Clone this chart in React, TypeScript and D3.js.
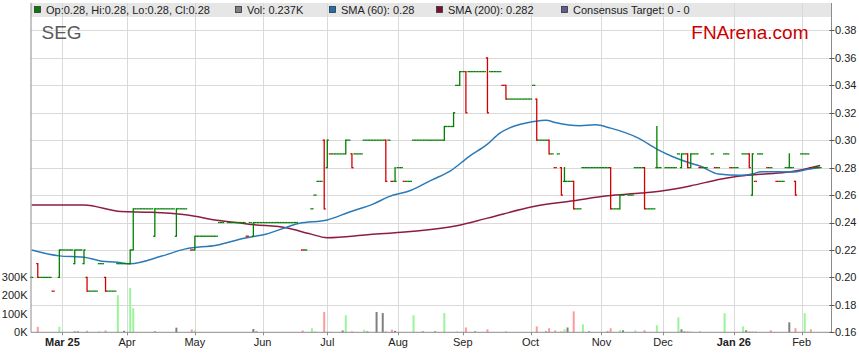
import React, { useEffect, useRef } from 'react';
import * as d3 from 'd3';

// trading days = weekdays counted from Mon 17 Feb 2025 (day 0)
const START = new Date(2025, 1, 17);
const DAY_COUNT = 260;

// days that traded at one price: [firstDay, lastDay, price]
const flatRuns: [number, number, number][] = [
  [0, 0, 0.2], [3, 6, 0.2], [7, 7, 0.19], [10, 13, 0.22], [15, 16, 0.22],
  [19, 21, 0.19], [22, 23, 0.21], [25, 27, 0.19], [28, 31, 0.21],
  [34, 39, 0.25], [41, 46, 0.25], [48, 50, 0.25], [52, 52, 0.22],
  [54, 60, 0.23], [61, 62, 0.24], [64, 69, 0.24], [70, 70, 0.23],
  [71, 71, 0.24], [73, 86, 0.24], [88, 89, 0.22], [91, 91, 0.25],
  [92, 92, 0.26], [93, 94, 0.27], [97, 101, 0.29], [103, 103, 0.3],
  [105, 107, 0.29], [108, 114, 0.3], [116, 116, 0.3], [117, 117, 0.27],
  [119, 120, 0.28], [121, 123, 0.27], [124, 133, 0.3], [135, 136, 0.31],
  [138, 138, 0.34], [140, 140, 0.35], [142, 147, 0.35], [149, 152, 0.35],
  [153, 153, 0.34], [155, 162, 0.33], [163, 163, 0.34], [165, 167, 0.3],
  [169, 169, 0.29], [170, 170, 0.28], [171, 171, 0.29], [174, 175, 0.27],
  [177, 178, 0.25], [179, 187, 0.28], [189, 190, 0.25], [192, 192, 0.26],
  [194, 195, 0.26], [196, 198, 0.28], [200, 202, 0.25], [204, 204, 0.28],
  [206, 209, 0.28], [210, 210, 0.29], [212, 212, 0.29], [215, 216, 0.29],
  [217, 219, 0.28], [221, 221, 0.29], [222, 223, 0.28], [225, 226, 0.29],
  [227, 229, 0.28], [231, 232, 0.29], [235, 235, 0.27], [236, 237, 0.29],
  [239, 240, 0.28], [242, 244, 0.27], [245, 245, 0.28], [247, 247, 0.28],
  [250, 252, 0.29], [253, 256, 0.28],
];

// days with a range: [day, open, high, low, close]
const rangeBars: [number, number, number, number, number][] = [
  [2, 0.21, 0.21, 0.2, 0.2], [9, 0.2, 0.22, 0.2, 0.22], [14, 0.21, 0.22, 0.21, 0.22],
  [17, 0.21, 0.22, 0.21, 0.22], [18, 0.2, 0.2, 0.19, 0.19], [24, 0.2, 0.2, 0.19, 0.19],
  [32, 0.21, 0.22, 0.21, 0.22], [33, 0.22, 0.25, 0.22, 0.25], [40, 0.23, 0.25, 0.23, 0.25],
  [47, 0.23, 0.25, 0.23, 0.25], [53, 0.22, 0.23, 0.22, 0.23], [72, 0.23, 0.24, 0.23, 0.24],
  [95, 0.3, 0.3, 0.25, 0.25], [96, 0.28, 0.3, 0.28, 0.3], [102, 0.29, 0.3, 0.29, 0.3],
  [104, 0.29, 0.29, 0.28, 0.28], [115, 0.3, 0.3, 0.27, 0.27], [118, 0.27, 0.28, 0.27, 0.27],
  [134, 0.3, 0.31, 0.3, 0.31], [137, 0.31, 0.32, 0.31, 0.32], [139, 0.34, 0.35, 0.34, 0.35],
  [141, 0.35, 0.35, 0.32, 0.32], [148, 0.36, 0.36, 0.32, 0.32], [154, 0.34, 0.34, 0.33, 0.33],
  [164, 0.33, 0.33, 0.3, 0.3], [168, 0.3, 0.3, 0.29, 0.29], [172, 0.28, 0.28, 0.26, 0.26],
  [173, 0.27, 0.28, 0.27, 0.27], [176, 0.27, 0.27, 0.25, 0.25], [188, 0.28, 0.28, 0.25, 0.25],
  [191, 0.25, 0.26, 0.25, 0.26], [199, 0.28, 0.28, 0.25, 0.25], [203, 0.28, 0.31, 0.28, 0.28],
  [211, 0.28, 0.29, 0.28, 0.29], [213, 0.29, 0.29, 0.28, 0.28], [214, 0.28, 0.29, 0.28, 0.29],
  [233, 0.29, 0.29, 0.28, 0.28], [234, 0.26, 0.29, 0.26, 0.29], [246, 0.28, 0.29, 0.28, 0.28],
  [248, 0.27, 0.27, 0.26, 0.26],
];

// volume per day, split by direction of the close
const volUp: [number, number][] = [
  [9, 30000], [22, 5000], [28, 200000], [32, 240000], [33, 130000], [53, 10000],
  [91, 22000], [92, 5000], [96, 5000], [102, 92000], [108, 14000], [124, 92000],
  [134, 104000], [138, 5000], [173, 16000], [179, 43000], [191, 11000], [196, 11000],
  [203, 38000], [210, 81000], [214, 5000], [225, 103000], [231, 32000], [234, 5000],
  [251, 103000],
];
const volDown: [number, number][] = [
  [2, 30000], [18, 8000], [24, 10000], [52, 15000], [88, 10000], [95, 110000],
  [97, 3000], [104, 5000], [115, 5000], [117, 14000], [141, 26000], [148, 16000],
  [154, 5000], [164, 32000], [168, 22000], [170, 10000], [172, 5000], [176, 113000],
  [188, 22000], [199, 11000], [213, 5000], [217, 5000], [233, 5000], [235, 5000],
  [240, 11000], [248, 22000], [253, 16000],
];
const volFlat: [number, number][] = [
  [14, 5000], [15, 5000], [30, 8000], [40, 5000], [47, 25000], [72, 18000], [73, 5000],
  [101, 10000], [109, 5000], [112, 110000], [114, 104000], [118, 8000], [127, 5000],
  [131, 5000], [144, 5000], [167, 5000], [174, 26000], [181, 5000], [187, 5000],
  [192, 11000], [211, 16000], [212, 5000], [232, 11000], [246, 54000],
];

// moving averages: [day, value]
const sma60: [number, number][] = [
  [0, 0.22], [9, 0.2157], [17, 0.2147], [22, 0.2122], [29, 0.2107], [32, 0.21],
  [42, 0.2154], [50, 0.2208], [60, 0.2235], [69, 0.2286], [76, 0.2315], [87, 0.2395],
  [96, 0.2419], [103, 0.2475], [111, 0.2536], [116, 0.2589], [123, 0.2633],
  [130, 0.2711], [136, 0.2777], [142, 0.2881], [148, 0.2971], [152, 0.3052],
  [155, 0.3088], [163, 0.3136], [167, 0.3146], [170, 0.3129], [178, 0.3105],
  [183, 0.3112], [188, 0.3088], [197, 0.3015], [203, 0.2935], [208, 0.2881],
  [214, 0.2832], [217, 0.2812], [223, 0.2754], [230, 0.2745], [234, 0.2754],
  [237, 0.2771], [247, 0.2769], [252, 0.2788], [256, 0.2801],
];
const sma200: [number, number][] = [
  [0, 0.2528], [17, 0.2528], [29, 0.248], [39, 0.2475], [50, 0.2456], [61, 0.2414],
  [72, 0.2385], [83, 0.236], [90, 0.232], [96, 0.229], [109, 0.2311], [123, 0.2335],
  [138, 0.2376], [148, 0.2432], [163, 0.2517], [176, 0.2559], [187, 0.2595],
  [198, 0.2615], [205, 0.2632], [214, 0.2668], [224, 0.2717], [230, 0.2739],
  [238, 0.2754], [246, 0.2768], [256, 0.2815],
];

const priceTicks = [0.16, 0.18, 0.2, 0.22, 0.24, 0.26, 0.28, 0.3, 0.32, 0.34, 0.36, 0.38];
const volTicks = [0, 100000, 200000, 300000];

const legendItems = [
  { label: 'Op:0.28, Hi:0.28, Lo:0.28, Cl:0.28', color: '#0a7a0a', x: 34 },
  { label: 'Vol: 0.237K', color: '#808080', x: 235 },
  { label: 'SMA (60): 0.28', color: '#1f6fae', x: 329 },
  { label: 'SMA (200): 0.282', color: '#7a1030', x: 436 },
  { label: 'Consensus Target: 0 - 0', color: '#5a5f8f', x: 561 },
];

const FONT = 'Arial, "Liberation Sans", sans-serif';
const GREEN = '#008000';
const RED = '#d40000';

export default function App() {
  const svgRef = useRef<SVGSVGElement>(null);

  useEffect(() => {
    if (!svgRef.current) return;
    document.body.style.margin = '0';
    document.body.style.overflow = 'hidden';

    const W = 859;
    const H = 363;
    const left = 31;
    const right = 831.5;
    const top = 3;
    const bottom = 332.3;

    const svg = d3.select(svgRef.current);
    svg.selectAll('*').remove();
    svg.attr('width', W).attr('height', H).style('font-family', FONT);

    const days = d3.timeDay
      .range(START, d3.timeDay.offset(START, 400))
      .filter((d) => d.getDay() % 6 !== 0)
      .slice(0, DAY_COUNT);

    const x = d3.scaleLinear().domain([-0.2, DAY_COUNT - 0.3]).range([left, right]);
    const y = d3.scaleLinear().domain([0.16, 0.4]).range([bottom, top]);
    const yVol = d3.scaleLinear().domain([0, 300000]).range([bottom, 276.8]);
    const crisp = (v: number) => Math.round(v) + 0.5;

    // legend band
    svg.append('rect').attr('x', left).attr('y', top).attr('width', right - left).attr('height', 14)
      .attr('fill', '#e6e6e6');

    // grid
    svg.append('g').selectAll('line').data(priceTicks.slice(1)).join('line')
      .attr('x1', left).attr('x2', right)
      .attr('y1', (d) => crisp(y(d))).attr('y2', (d) => crisp(y(d)))
      .attr('stroke', '#d9d9d9');

    const monthStarts = days
      .map((d, i) => ({ d, i }))
      .filter(({ d, i }) => i > 0 && d.getMonth() !== days[i - 1].getMonth());

    svg.append('g').selectAll('line').data(monthStarts).join('line')
      .attr('x1', (m) => crisp(x(m.i))).attr('x2', (m) => crisp(x(m.i)))
      .attr('y1', top).attr('y2', bottom)
      .attr('stroke', '#d9d9d9');

    // volume
    const volGroups = [
      { data: volUp, color: '#99f599' },
      { data: volDown, color: '#ff9a9a' },
      { data: volFlat, color: '#808080' },
    ];
    volGroups.forEach((grp) => {
      svg.append('g').selectAll('rect').data(grp.data).join('rect')
        .attr('x', (d) => x(d[0]) - 1)
        .attr('width', 2)
        .attr('y', (d) => yVol(d[1]))
        .attr('height', (d) => bottom - yVol(d[1]))
        .attr('fill', grp.color);
    });

    // moving averages
    const line = d3.line<[number, number]>()
      .x((d) => x(d[0]))
      .y((d) => y(d[1]))
      .curve(d3.curveMonotoneX);
    svg.append('path').datum(sma200).attr('d', line).attr('fill', 'none')
      .attr('stroke', '#8c1d40').attr('stroke-width', 1.5);
    svg.append('path').datum(sma60).attr('d', line).attr('fill', 'none')
      .attr('stroke', '#2a7ab9').attr('stroke-width', 1.5);

    // OHLC bars
    const byDay = new Map<number, { day: number; o: number; h: number; l: number; c: number }>();
    flatRuns.forEach(([a, b, p]) => {
      for (let dd = a; dd <= b; dd++) byDay.set(dd, { day: dd, o: p, h: p, l: p, c: p });
    });
    rangeBars.forEach(([dd, o, h, l, c]) => byDay.set(dd, { day: dd, o, h, l, c }));
    const bars = Array.from(byDay.values()).sort((a, b) => a.day - b.day);

    let prevClose = bars[0].c;
    const coloured = bars.map((b) => {
      const up = b.c > b.o || (b.c === b.o && b.c >= prevClose);
      prevClose = b.c;
      return { ...b, color: up ? GREEN : RED };
    });

    const ohlc = svg.append('g').attr('stroke-width', 1.3);
    coloured.forEach((b) => {
      const cx = x(b.day);
      const g = ohlc.append('g').attr('stroke', b.color);
      if (b.h > b.l) {
        g.append('line').attr('x1', cx).attr('x2', cx).attr('y1', y(b.h) - 0.6).attr('y2', y(b.l) + 0.6);
      }
      g.append('line').attr('x1', cx - 1.6).attr('x2', cx).attr('y1', y(b.o)).attr('y2', y(b.o));
      g.append('line').attr('x1', cx).attr('x2', cx + 1.6).attr('y1', y(b.c)).attr('y2', y(b.c));
    });

    // frame
    const frame = svg.append('g').attr('stroke', '#8c8c8c').attr('stroke-width', 1);
    frame.append('line').attr('x1', left).attr('x2', left).attr('y1', top).attr('y2', bottom);
    frame.append('line').attr('x1', right).attr('x2', right).attr('y1', top).attr('y2', bottom);
    frame.append('line').attr('x1', left).attr('x2', right).attr('y1', bottom).attr('y2', bottom);

    // right price axis
    const yAxis = svg.append('g');
    yAxis.selectAll('line').data(priceTicks).join('line')
      .attr('x1', right - 2).attr('x2', right + 3)
      .attr('y1', (d) => crisp(y(d))).attr('y2', (d) => crisp(y(d)))
      .attr('stroke', '#555');
    yAxis.selectAll('text').data(priceTicks).join('text')
      .attr('x', right + 3.5).attr('y', (d) => y(d)).attr('dy', '0.35em')
      .attr('font-size', 11).attr('fill', '#222')
      .text((d) => d.toFixed(2));

    // left volume labels
    svg.append('g').selectAll('text').data(volTicks).join('text')
      .attr('x', 27.5).attr('y', (d) => yVol(d)).attr('dy', '0.35em')
      .attr('text-anchor', 'end').attr('font-size', 11).attr('fill', '#222')
      .text((d) => `${d / 1000}K`);

    // month axis
    const fmtMonth = d3.timeFormat('%b');
    const fmtYear = d3.timeFormat('%b %y');
    svg.append('g').selectAll('line').data(monthStarts).join('line')
      .attr('x1', (m) => crisp(x(m.i))).attr('x2', (m) => crisp(x(m.i)))
      .attr('y1', bottom).attr('y2', bottom + 3)
      .attr('stroke', '#8c8c8c');
    svg.append('g').selectAll('text').data(monthStarts).join('text')
      .attr('x', (m) => x(m.i)).attr('y', 346)
      .attr('text-anchor', 'middle').attr('font-size', 11).attr('fill', '#222')
      .attr('font-weight', (m, k) => (k === 0 || m.d.getMonth() === 0 ? 'bold' : 'normal'))
      .text((m, k) => (k === 0 || m.d.getMonth() === 0 ? fmtYear(m.d) : fmtMonth(m.d)));

    // legend
    const legend = svg.append('g');
    legendItems.forEach((item) => {
      legend.append('rect').attr('x', item.x + 0.5).attr('y', 6.5).attr('width', 6).attr('height', 6)
        .attr('fill', item.color).attr('stroke', '#333').attr('stroke-width', 0.8);
      legend.append('text').attr('x', item.x + 12).attr('y', 14)
        .attr('font-size', 11).attr('fill', '#222').text(item.label);
    });

    // titles
    svg.append('text').attr('x', 41.5).attr('y', 39).attr('font-size', 19).attr('fill', '#5a5a5a').text('SEG');
    svg.append('text').attr('x', 808.5).attr('y', 38.5).attr('text-anchor', 'end')
      .attr('font-size', 19).attr('fill', '#cc0000').text('FNArena.com');
  }, []);

  return <svg ref={svgRef} style={{ display: 'block' }} />;
}
